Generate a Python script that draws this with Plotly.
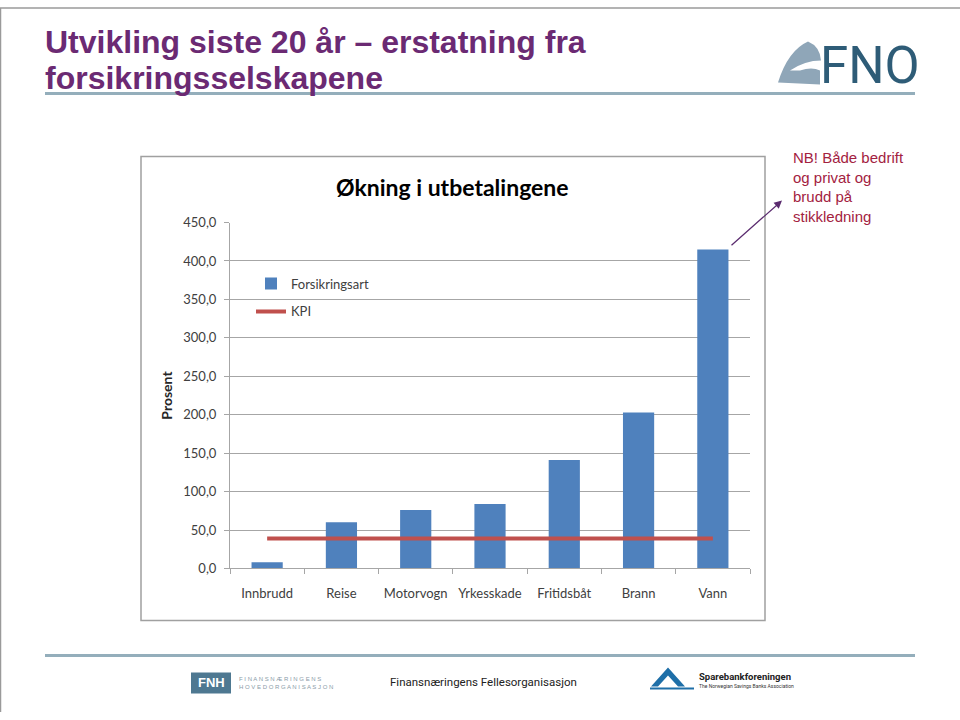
import plotly.graph_objects as go

categories = ["Innbrudd", "Reise", "Motorvogn", "Yrkesskade", "Fritidsbåt", "Brann", "Vann"]
forsikringsart = [8, 60, 76, 84, 141, 203, 415]
kpi = [39, 39, 39, 39, 39, 39, 39]
y_ticks = [0, 50, 100, 150, 200, 250, 300, 350, 400, 450]

W, H = 960, 720
# the photographed page maps figure y to screen y as  y_screen = 0.978*y_fig + 7.4
def px(x):
    return x / W
def py(y):
    yf = (y - 7.4) / 0.978
    return (H - yf) / H

fig = go.Figure()
fig.add_trace(go.Bar(x=categories, y=forsikringsart, name="Forsikringsart", legendgroup="a",
                     marker=dict(color="#4F81BD", line=dict(width=0))))
fig.add_trace(go.Scatter(x=categories, y=kpi, name="KPI", mode="lines", legendgroup="b",
                         line=dict(color="#C0504D", width=4)))

tickfont = dict(family="Lato, Carlito, sans-serif", size=13, color="#404040")

fig.update_layout(
    width=W, height=H,
    margin=dict(l=0, r=0, t=0, b=0),
    paper_bgcolor="white", plot_bgcolor="white",
    separators=", ",
    bargap=0.58,
    showlegend=True,
    legend=dict(x=px(251), y=py(268), xanchor="left", yanchor="top",
                font=dict(family="Lato, Carlito, sans-serif", size=13, color="#404040"),
                bgcolor="rgba(0,0,0,0)", itemwidth=30, tracegroupgap=8),
    xaxis=dict(domain=[px(230), px(750)], type="category",
               showline=True, linecolor="#A6A6A6", linewidth=1,
               ticks="outside", tickson="boundaries", ticklen=5, tickcolor="#A6A6A6",
               ticklabelstandoff=13,
               tickfont=tickfont, showgrid=False),
    yaxis=dict(domain=[py(568), py(222)], range=[0, 450],
               tickvals=y_ticks, tickformat=".1f",
               showline=True, linecolor="#A6A6A6", linewidth=1,
               ticks="outside", ticklen=5, tickcolor="#A6A6A6",
               ticklabelstandoff=5,
               showgrid=True, gridcolor="#A6A6A6", gridwidth=1,
               tickfont=tickfont, zeroline=False,
               title=dict(text="<b>Prosent</b>", standoff=7,
                          font=dict(family="Lato, Carlito, sans-serif", size=14, color="#262626"))),
)

shapes = []
# slide frame left/top
shapes.append(dict(type="line", xref="paper", yref="paper", x0=px(0.5), x1=px(0.5), y0=0, y1=1,
                   line=dict(color="#9A9A9A", width=1.5)))
shapes.append(dict(type="line", xref="paper", yref="paper", x0=0, x1=1, y0=1, y1=1,
                   line=dict(color="#9A9A9A", width=1.5)))
# header & footer rules
shapes.append(dict(type="line", xref="paper", yref="paper", x0=px(45), x1=px(915), y0=py(93), y1=py(93),
                   line=dict(color="#94AEBB", width=3)))
shapes.append(dict(type="line", xref="paper", yref="paper", x0=px(45), x1=px(915), y0=py(655), y1=py(655),
                   line=dict(color="#94AEBB", width=3)))
# chart box
shapes.append(dict(type="rect", xref="paper", yref="paper", x0=px(141), x1=px(765), y0=py(620), y1=py(156),
                   line=dict(color="#A0A0A0", width=1.5), fillcolor="rgba(0,0,0,0)", layer="below"))
# FNO logo swoosh
shapes.append(dict(type="path", xref="paper", yref="paper",
                   path=f"M {px(778)},{py(82)} Q {px(788)},{py(50)} {px(808)},{py(41)} Q {px(820)},{py(46)} {px(821)},{py(60)} "
                        f"Q {px(805)},{py(60)} {px(790)},{py(70)} L {px(800)},{py(70)} Q {px(812)},{py(66)} {px(820)},{py(70)} "
                        f"L {px(820)},{py(84)} Z",
                   fillcolor="#8FA6B8", line=dict(width=0)))
# FNH logo box
shapes.append(dict(type="rect", xref="paper", yref="paper", x0=px(191), x1=px(231), y0=py(693), y1=py(672),
                   fillcolor="#4E7891", line=dict(width=0)))
# Sparebank logo mark
shapes.append(dict(type="path", xref="paper", yref="paper",
                   path=f"M {px(651)},{py(686)} L {px(668)},{py(667)} L {px(685)},{py(686)} L {px(678)},{py(686)} "
                        f"L {px(668)},{py(675)} L {px(658)},{py(686)} Z",
                   fillcolor="#1E6FA8", line=dict(width=0)))
shapes.append(dict(type="line", xref="paper", yref="paper", x0=px(650), x1=px(694), y0=py(688), y1=py(688),
                   line=dict(color="#1E6FA8", width=2)))
fig.update_layout(shapes=shapes)

title_font = dict(family="Liberation Sans, Arial, sans-serif", size=32, color="#6B2A73")
annotations = [
    dict(text="<b>Utvikling siste 20 år – erstatning fra</b>", x=px(43), y=py(41), xref="paper", yref="paper",
         xanchor="left", yanchor="middle", showarrow=False, font=title_font),
    dict(text="<b>forsikringsselskapene</b>", x=px(43), y=py(77), xref="paper", yref="paper",
         xanchor="left", yanchor="middle", showarrow=False, font=title_font),
    dict(text="FNO", x=px(818), y=py(65), xref="paper", yref="paper", xanchor="left", yanchor="middle",
         showarrow=False, font=dict(family="Roboto, sans-serif", size=51, color="#2E5C77")),
    dict(text="<b>Økning i utbetalingene</b>", x=px(452), y=py(186), xref="paper", yref="paper",
         xanchor="center", yanchor="middle", showarrow=False,
         font=dict(family="Lato, Carlito, sans-serif", size=23, color="#000000")),
    dict(text="NB! Både bedrift<br>og privat og<br>brudd på<br>stikkledning", x=px(791), y=py(146),
         xref="paper", yref="paper", xanchor="left", yanchor="top", align="left", showarrow=False,
         font=dict(family="Liberation Sans, Arial, sans-serif", size=15, color="#A3223F")),
    dict(text="", x=px(782), y=py(200), xref="paper", yref="paper", showarrow=True,
         ax=-52, ay=46, arrowhead=2, arrowsize=1.2, arrowwidth=1.3, arrowcolor="#5B2C6F"),
    dict(text="<b>FNH</b>", x=px(211), y=py(682.5), xref="paper", yref="paper", xanchor="center", yanchor="middle",
         showarrow=False, font=dict(family="Liberation Sans, Arial, sans-serif", size=13, color="white")),
    dict(text="F I N A N S N Æ R I N G E N S<br>H O V E D O R G A N I S A S J O N", x=px(237), y=py(682.5),
         xref="paper", yref="paper", xanchor="left", yanchor="middle", align="left", showarrow=False,
         font=dict(family="Liberation Sans, Arial, sans-serif", size=6, color="#8A9BA8")),
    dict(text="Finansnæringens Fellesorganisasjon", x=px(388), y=py(682), xref="paper", yref="paper",
         xanchor="left", yanchor="middle", showarrow=False,
         font=dict(family="Roboto, sans-serif", size=11.5, color="#222222")),
    dict(text="<b>Sparebankforeningen</b>", x=px(697), y=py(676), xref="paper", yref="paper",
         xanchor="left", yanchor="middle", showarrow=False,
         font=dict(family="Roboto, sans-serif", size=9.5, color="#222222")),
    dict(text="The Norwegian Savings Banks Association", x=px(697), y=py(686), xref="paper", yref="paper",
         xanchor="left", yanchor="middle", showarrow=False,
         font=dict(family="Roboto, sans-serif", size=5, color="#333333")),
]
fig.update_layout(annotations=annotations)

fig.write_html("out.html", config={"displayModeBar": False},
               post_script="document.body.style.margin='0';document.body.style.overflow='hidden';"
                           "document.documentElement.style.overflow='hidden';")
